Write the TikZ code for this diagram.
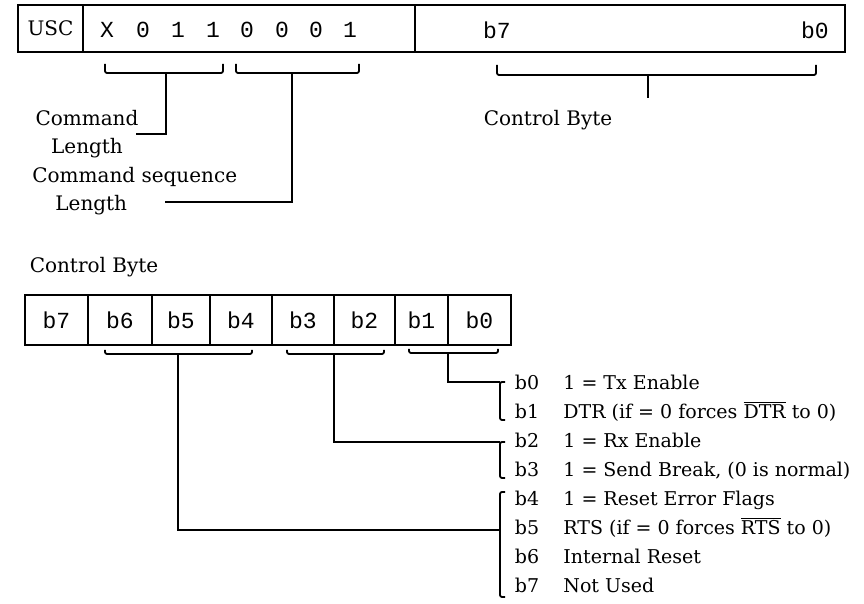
\documentclass[tikz,border=0pt]{standalone}
\usepackage{fontspec}
\setmainfont{DejaVu Serif}
\setmonofont{Liberation Mono}
\usetikzlibrary{positioning}
\tikzset{
  field/.style={draw,line width=0.9pt,minimum height=23.5pt,inner sep=0pt,
    outer sep=0pt,font=\fontsize{10}{12}\selectfont},
  cell/.style={draw,line width=0.9pt,minimum height=25pt,inner sep=0pt,
    outer sep=0pt,font=\ttfamily\fontsize{11.5}{12}\selectfont},
  bit/.style={inner sep=0pt,font=\ttfamily\fontsize{11.5}{12}\selectfont},
  lbl/.style={inner sep=0pt,font=\fontsize{10}{14}\selectfont},
  item/.style={inner sep=0pt,text height=7pt,text depth=2pt,
    font=\fontsize{9.5}{11}\selectfont},
  wire/.style={line width=0.9pt},
  brace/.style={line width=0.9pt,rounded corners=1pt}
}
\begin{document}
\begin{tikzpicture}[x=0.5pt,y=-0.5pt,node distance=0pt]
  \useasboundingbox (0,0) rectangle (864,604);

  % command register
  \node[field,minimum width=32.5pt] (usc) at (50.5,28.5) {USC};
  \node[field,minimum width=166pt,right=of usc] (cmd) {};
  \node[field,minimum width=215pt,right=of cmd] (ctl) {};
  \node[bit] (c1) at (107,30) {X};
  \node[bit] (c2) at (143,30) {0};
  \node[bit] (c3) at (178,30) {1};
  \node[bit] (c4) at (213,30) {1};
  \node[bit] (c5) at (247,30) {0};
  \node[bit] (c6) at (282,30) {0};
  \node[bit] (c7) at (316,30) {0};
  \node[bit] (c8) at (350,30) {1};
  \node[bit] (hi) at (497,30) {b7};
  \node[bit] (lo) at (815,30) {b0};

  \draw[brace] (105,64) |- (223,73) -- (223,64);
  \draw[brace] (236,64) |- (359,73) -- (359,64);
  \draw[brace] (497,65) |- (816,75) -- (816,65);
  \coordinate (lenbr) at (166,73);
  \coordinate (seqbr) at (292,73);
  \coordinate (bytebr) at (648,75);
  \coordinate (bytestem) at (648,98);

  \node[lbl,align=center] (cmdlen) at (87,134) {Command\\Length};
  \node[lbl,align=left,anchor=west] (seqlen) at (32,191.5)
    {Command sequence\\\hspace*{11.5pt}Length};
  \node[lbl] (bytetxt) at (548,120) {Control Byte};
  \coordinate (lenend) at (136,134);
  \coordinate (seqend) at (165,202);
  \draw[wire] (lenbr) |- (lenend);
  \draw[wire] (seqbr) |- (seqend);
  \draw[wire] (bytebr) -- (bytestem);

  % control byte
  \node[lbl] (ctltitle) at (94,267) {Control Byte};
  \node[cell,minimum width=31.5pt] (k7) at (56.5,320) {b7};
  \node[cell,minimum width=32pt,right=of k7] (k6) {b6};
  \node[cell,minimum width=29pt,right=of k6] (k5) {b5};
  \node[cell,minimum width=31pt,right=of k5] (k4) {b4};
  \node[cell,minimum width=31pt,right=of k4] (k3) {b3};
  \node[cell,minimum width=30.5pt,right=of k3] (k2) {b2};
  \node[cell,minimum width=26.5pt,right=of k2] (k1) {b1};
  \node[cell,minimum width=31.5pt,right=of k1] (k0) {b0};

  \draw[brace] (105,350) |- (252,354) -- (252,350);
  \draw[brace] (287,350) |- (384,354) -- (384,350);
  \draw[brace] (409,349) |- (498,353) -- (498,349);
  \coordinate (hibr) at (178,354);
  \coordinate (midbr) at (334,354);
  \coordinate (lobr) at (448,353);

  % bit list
  \node[item] (n0) at (527,385) {b0};
  \node[item] (n1) at (527,414) {b1};
  \node[item] (n2) at (527,443) {b2};
  \node[item] (n3) at (527,472) {b3};
  \node[item] (n4) at (527,501) {b4};
  \node[item] (n5) at (527,530) {b5};
  \node[item] (n6) at (527,559) {b6};
  \node[item] (n7) at (527,588) {b7};
  \node[item,anchor=west] (d0) at (563,385) {1 = Tx Enable};
  \node[item,anchor=west] (d1) at (563,414)
    {DTR (if = 0 forces $\overline{\mbox{DTR}}$ to 0)};
  \node[item,anchor=west] (d2) at (563,443) {1 = Rx Enable};
  \node[item,anchor=west] (d3) at (563,472) {1 = Send Break, (0 is normal)};
  \node[item,anchor=west] (d4) at (563,501) {1 = Reset Error Flags};
  \node[item,anchor=west] (d5) at (563,530)
    {RTS (if = 0 forces $\overline{\mbox{RTS}}$ to 0)};
  \node[item,anchor=west] (d6) at (563,559) {Internal Reset};
  \node[item,anchor=west] (d7) at (563,588) {Not Used};

  \coordinate (g0) at (500,382);
  \coordinate (g2) at (500,442);
  \coordinate (g4) at (500,530);
  \draw[brace] (505,382) -| (500,420) -- (505,420);
  \draw[brace] (505,442) -| (500,478) -- (505,478);
  \draw[brace] (505,492) -| (500,597) -- (505,597);
  \draw[wire] (lobr) |- (g0);
  \draw[wire] (midbr) |- (g2);
  \draw[wire] (hibr) |- (g4);
\end{tikzpicture}
\end{document}
